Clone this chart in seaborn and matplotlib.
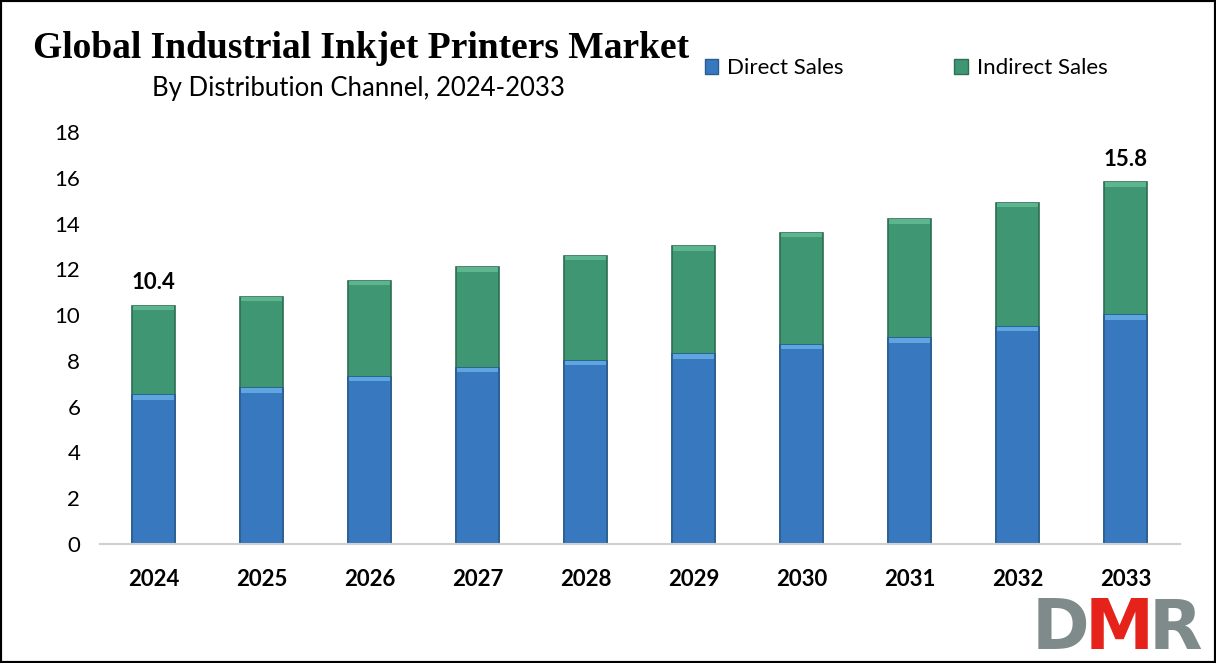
import matplotlib
matplotlib.use("Agg")
import matplotlib.pyplot as plt
import seaborn as sns
import pandas as pd
from matplotlib.patches import Rectangle, Patch

years = ["2024", "2025", "2026", "2027", "2028", "2029", "2030", "2031", "2032", "2033"]
direct_sales = [6.5, 6.8, 7.3, 7.7, 8.0, 8.3, 8.7, 9.0, 9.5, 10.0]
indirect_sales = [3.9, 4.0, 4.2, 4.4, 4.6, 4.7, 4.9, 5.2, 5.4, 5.8]
labelled = {"2024": "10.4", "2033": "15.8"}
yticks = [0, 2, 4, 6, 8, 10, 12, 14, 16, 18]

df = pd.DataFrame({"year": years, "direct": direct_sales, "indirect": indirect_sales})
df["total"] = df["direct"] + df["indirect"]

sns.set_theme(style="white")
plt.rcParams["font.family"] = ["Lato", "DejaVu Sans"]
plt.rcParams["text.color"] = "black"

fig = plt.figure(figsize=(12.16, 6.63), dpi=100)
ax = fig.add_axes([0.082, 0.1795, 0.888, 0.6215])

blue = "#3878BF"
green = "#3F9673"
sns.barplot(data=df, x="year", y="total", color=green, width=0.4, ax=ax,
            edgecolor="#2E6E52", linewidth=1.2, saturation=1)
sns.barplot(data=df, x="year", y="direct", color=blue, width=0.4, ax=ax,
            edgecolor="#2A5C94", linewidth=1.2, saturation=1)

# bevel highlight strips
for i, (d, t) in enumerate(zip(df["direct"], df["total"])):
    ax.bar(i, 0.2, bottom=d - 0.2, width=0.38, color="#5FA5E0", linewidth=0, zorder=3)
    ax.bar(i, 0.2, bottom=t - 0.2, width=0.38, color="#5DB58F", linewidth=0, zorder=3)

for i, y in enumerate(years):
    if y in labelled:
        ax.annotate(labelled[y], (i, df["total"][i]), xytext=(0, 9), textcoords="offset points",
                    ha="center", va="bottom", fontsize=16, fontweight="bold", color="black")

ax.set_ylim(0, 18)
ax.set_yticks(yticks)
ax.set_xlim(-0.5, 9.5)
ax.set_xlabel("")
ax.set_ylabel("")
for s in ["top", "right", "left"]:
    ax.spines[s].set_visible(False)
ax.spines["bottom"].set_color("#D0D0D0")
ax.spines["bottom"].set_linewidth(1.5)
ax.tick_params(axis="y", labelsize=16, length=0, pad=14, colors="black")
ax.tick_params(axis="x", labelsize=16, length=0, pad=18, colors="black")
for lab in ax.get_xticklabels():
    lab.set_fontweight("bold")

# legend
handles = [Patch(facecolor=blue, edgecolor="#2A5C94"), Patch(facecolor=green, edgecolor="#2E6E52")]
fig.legend(handles, ["Direct Sales", "Indirect Sales"], loc="center left",
           bbox_to_anchor=(0.563, 0.897), ncol=2, frameon=False, fontsize=16,
           handlelength=0.6, handleheight=0.6, handletextpad=0.4, columnspacing=5.0)

fig.text(0.027, 0.927, "Global Industrial Inkjet Printers Market", fontsize=27, fontweight="bold",
         family="Liberation Serif", ha="left", va="center", color="black")
fig.text(0.295, 0.867, "By Distribution Channel, 2024-2033", fontsize=18.5, ha="center", va="center",
         color="black")

# logo
fig.text(0.848, 0.0, "D", fontsize=50, fontweight="bold", color="#7F8A8A", ha="left", va="bottom",
         family="DejaVu Sans")
fig.text(0.892, 0.0, "M", fontsize=50, fontweight="bold", color="#E5231B", ha="left", va="bottom",
         family="DejaVu Sans")
fig.text(0.945, 0.0, "R", fontsize=50, fontweight="bold", color="#7F8A8A", ha="left", va="bottom",
         family="DejaVu Sans")

fig.patches.append(Rectangle((0, 0), 1, 1, transform=fig.transFigure, fill=False,
                             edgecolor="black", linewidth=3, zorder=10))

fig.savefig("out.png", dpi=100)
